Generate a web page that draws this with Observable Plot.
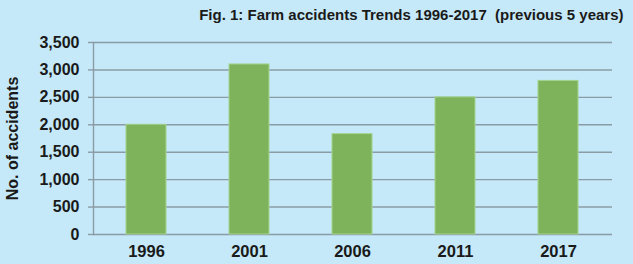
<!DOCTYPE html>
<html>
<head>
<meta charset="utf-8">
<script src="https://cdn.jsdelivr.net/npm/d3@7"></script>
<script src="https://cdn.jsdelivr.net/npm/@observablehq/plot@0.6"></script>
<style>
  html, body { margin: 0; padding: 0; background: #C5E9F8; }
  #chart svg text { white-space: pre; }
</style>
</head>
<body>
<div id="chart"></div>
<script>
const years = ["1996", "2001", "2006", "2011", "2017"];
const accidents = [2000, 3100, 1830, 2500, 2800];
const yTicks = [0, 500, 1000, 1500, 2000, 2500, 3000, 3500];
const titleText = "Fig. 1: Farm accidents Trends 1996-2017  (previous 5 years)";
const yLabel = "No. of accidents";

const data = years.map((y, i) => ({year: y, value: accidents[i]}));

const chart = Plot.plot({
  width: 633,
  height: 264,
  marginLeft: 93,
  marginRight: 21,
  marginTop: 42,
  marginBottom: 30,
  style: {background: "#C5E9F8", fontFamily: "Liberation Sans, Arial, sans-serif", color: "#1a1a1a"},
  x: {domain: years, paddingInner: 0.609, paddingOuter: 0.311},
  y: {domain: [0, 3500]},
  marks: [
    Plot.gridY(yTicks, {stroke: "#8A9BA6", strokeOpacity: 1, strokeWidth: 1.4}),
    Plot.frame({anchor: "left", stroke: "#8A9BA6", strokeWidth: 1.4}),
    Plot.barY(data, {x: "year", y: "value", fill: "#7FB35B", stroke: "#A4D490", strokeWidth: 1}),
    Plot.axisY(yTicks, {
      tickSize: 5, tickPadding: 9, stroke: "#8A9BA6", strokeWidth: 1.4,
      tickFormat: d3.format(","), fontSize: 16, fontWeight: "bold", fill: "#1a1a1a",
      label: yLabel, labelAnchor: "center", labelArrow: "none", labelOffset: 87
    }),
    Plot.axisX({tickSize: 0, tickPadding: 11, fontSize: 16.5, fontWeight: "bold", fill: "#1a1a1a", label: null}),
    Plot.text([titleText], {
      frameAnchor: "top-right", dx: 11, dy: -33, textAnchor: "end", lineAnchor: "top",
      fontSize: 15, fontWeight: "bold", fill: "#1a1a1a"
    })
  ]
});
document.getElementById("chart").appendChild(chart);
</script>
</body>
</html>
